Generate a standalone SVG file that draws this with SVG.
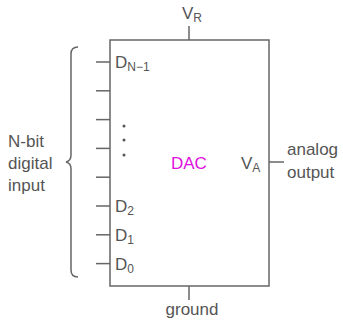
<svg xmlns="http://www.w3.org/2000/svg" width="343" height="323" viewBox="0 0 343 323">
<style>
text{font-family:"Liberation Sans",Arial,sans-serif;font-size:17px;fill:#555}
.sub{font-size:12px}
.ln{stroke:#666;stroke-width:1.5;fill:none}
.dac{fill:#e010e0}
</style>
<rect width="343" height="323" fill="#fff"/>
<g id="connectors">
<line class="ln" x1="189" y1="26" x2="189" y2="40"/>
<line class="ln" x1="189" y1="286" x2="189" y2="300"/>
<line class="ln" x1="269" y1="162" x2="284" y2="162"/>
<line class="ln" x1="96" y1="62" x2="110" y2="62"/>
<line class="ln" x1="96" y1="90.8" x2="110" y2="90.8"/>
<line class="ln" x1="96" y1="119.6" x2="110" y2="119.6"/>
<line class="ln" x1="96" y1="148.4" x2="110" y2="148.4"/>
<line class="ln" x1="96" y1="177.2" x2="110" y2="177.2"/>
<line class="ln" x1="96" y1="206" x2="110" y2="206"/>
<line class="ln" x1="96" y1="234.8" x2="110" y2="234.8"/>
<line class="ln" x1="96" y1="263.6" x2="110" y2="263.6"/>
</g>
<g id="dac">
<rect class="ln" x="110" y="40" width="159" height="246"/>
<text class="dac" x="171" y="169">DAC</text>
<text x="115" y="68">D<tspan class="sub" dy="3">N−1</tspan></text>
<text x="115" y="212">D<tspan class="sub" dy="3">2</tspan></text>
<text x="115" y="241">D<tspan class="sub" dy="3">1</tspan></text>
<text x="115" y="270">D<tspan class="sub" dy="3">0</tspan></text>
<circle cx="124" cy="126" r="1.5" fill="#555"/>
<circle cx="124" cy="140" r="1.5" fill="#555"/>
<circle cx="124" cy="155" r="1.5" fill="#555"/>
<text x="241" y="169">V<tspan class="sub" dy="3">A</tspan></text>
</g>
<g id="vr"><text x="182" y="19">V<tspan class="sub" dy="3">R</tspan></text></g>
<g id="ground"><text x="192" y="315" text-anchor="middle">ground</text></g>
<g id="output"><text x="287" y="155">analog</text><text x="287" y="178">output</text></g>
<g id="input">
<path class="ln" d="M78,47 Q71,47 71,54 L71,155 Q71,161 66,162 Q71,163 71,169 L71,270 Q71,277 78,277"/>
<text x="8" y="147">N-bit</text>
<text x="8" y="169">digital</text>
<text x="8" y="191">input</text>
</g>
</svg>
